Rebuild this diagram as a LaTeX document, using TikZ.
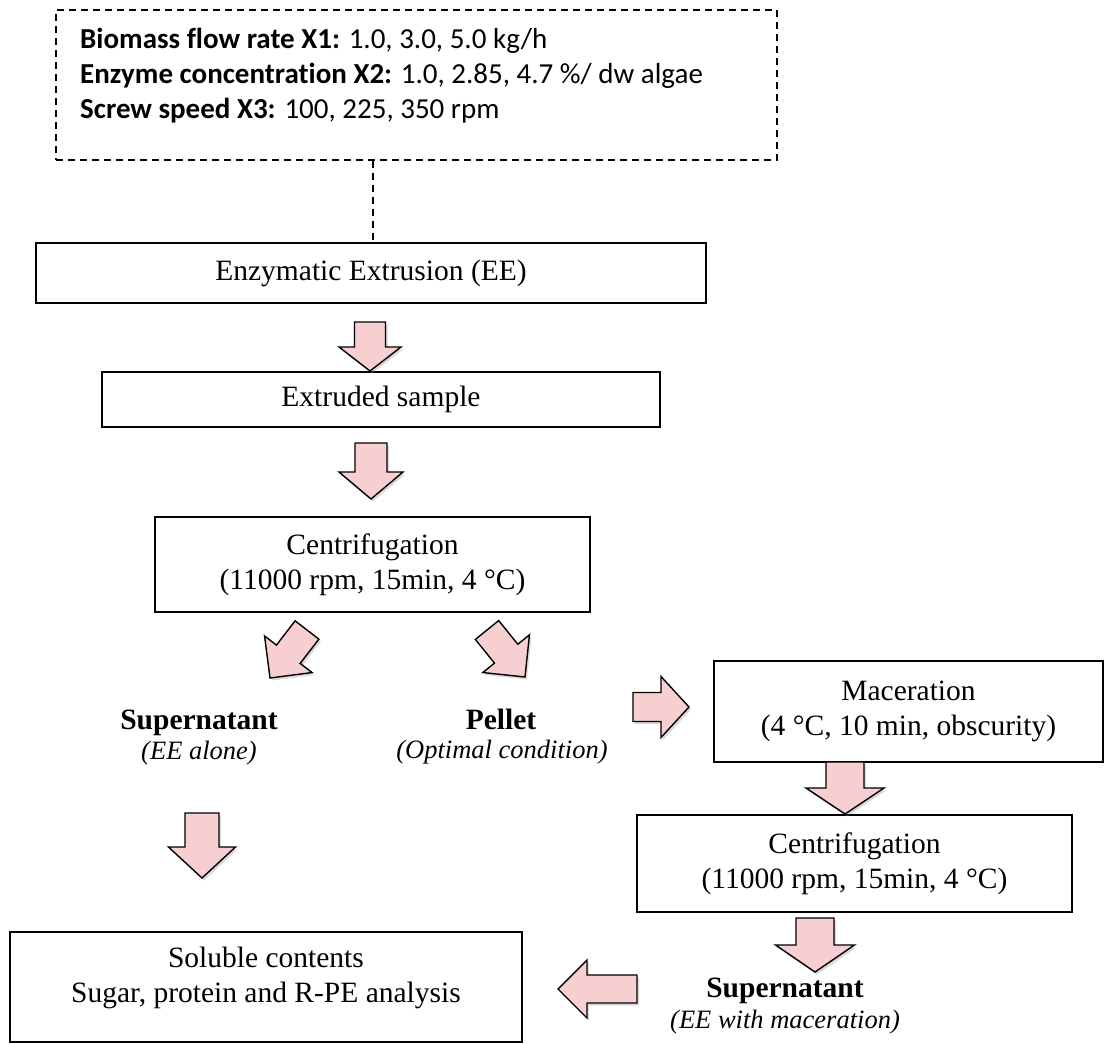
\documentclass[tikz,border=0pt]{standalone}
\usepackage{fontspec}
\setmainfont{Liberation Serif}
\newfontfamily\calib[Ligatures=CommonOff]{Carlito}
\usetikzlibrary{calc,shadows}
\definecolor{pinkfill}{RGB}{248,207,208}
\tikzset{
  box/.style={draw=black, line width=1.4pt, rectangle, inner sep=0pt, align=center,
              font=\fontsize{29.5}{35}\selectfont},
  txt/.style={inner sep=0pt, align=center, font=\fontsize{29.5}{35}\selectfont},
  dbox/.style={draw=black, line width=1.4pt, dash pattern=on 7pt off 5pt, rectangle, inner sep=0pt},
  dline/.style={draw=black, line width=1.4pt, dash pattern=on 7pt off 5pt},
  barrow/.style={fill=pinkfill, draw=black, line width=1.4pt, line join=miter,
                 drop shadow={shadow xshift=2pt, shadow yshift=-2.5pt, opacity=0.3}},
  params/.style={anchor=base west, inner sep=0pt, font=\calib\fontsize{29}{35}\selectfont},
  lblb/.style={anchor=base, inner sep=0pt, font=\bfseries\fontsize{29.5}{34}\selectfont},
  lbli/.style={anchor=base, inner sep=0pt, font=\itshape\fontsize{26.5}{30}\selectfont},
}
% tail, tip, shaft half width, head half width, head length
\newcommand{\blockarrow}[5]{%
  \coordinate (bh) at ($(#2)!#5!(#1)$);
  \path[barrow] (#2) -- ($(bh)!#4!90:(#2)$) -- ($(bh)!#3!90:(#2)$)
    -- ($(#1)!#3!90:(#2)$) -- ($(#1)!#3!-90:(#2)$)
    -- ($(bh)!#3!-90:(#2)$) -- ($(bh)!#4!-90:(#2)$) -- cycle;}
\begin{document}
\begin{tikzpicture}[x=1pt, y=-1pt]
\useasboundingbox (0,0) rectangle (1106,1044);

% parameter box
\node[dbox, minimum width=721pt, minimum height=150pt] (par) at (416.5,85) {};
\node[params] (p1) at (80,48) {\bfseries Biomass flow rate X1: \mdseries 1.0, 3.0, 5.0 kg/h};
\node[params] (p2) at (80,83) {\bfseries Enzyme concentration X2: \mdseries 1.0, 2.85, 4.7 \%/ dw algae};
\node[params] (p3) at (80,118) {\bfseries Screw speed X3: \mdseries 100, 225, 350 rpm};

% process boxes
\node[box, minimum width=670pt, minimum height=60pt] (ee) at (371,273) {Enzymatic Extrusion (EE)};
\node[box, minimum width=558pt, minimum height=55pt] (ext) at (381,399.5) {Extruded sample};
\node[box, minimum width=435pt, minimum height=95pt] (cen1) at (372.5,564.5) {Centrifugation\\(11000 rpm, 15min, 4 °C)};
\node[box, minimum width=389pt, minimum height=101pt] (mac) at (908.5,711.5) {Maceration\\(4 °C, 10 min, obscurity)};
\node[box, minimum width=435pt, minimum height=97pt] (cen2) at (854.5,863.5) {Centrifugation\\(11000 rpm, 15min, 4 °C)};
\node[box, minimum width=512pt, minimum height=110pt] (sol) at (266,987) {};
\node[txt] (solt) at (266,978) {Soluble contents\\Sugar, protein and R-PE analysis};

% labels
\node[lblb] (sup1) at (199,729) {Supernatant};
\node[lbli] (sup1i) at (199,759) {(EE alone)};
\node[lblb] (pel) at (501,729) {Pellet};
\node[lbli] (peli) at (502,758) {(Optimal condition)};
\node[lblb] (sup2) at (785,997) {Supernatant};
\node[lbli] (sup2i) at (785,1028) {(EE with maceration)};

% dashed connector
\coordinate (dl) at (373,0);
\draw[dline] (dl |- par.south) -- (dl |- ee.north);

% block arrows
\coordinate (a1t) at (370,322);  \coordinate (a1h) at (370,371);
\coordinate (a2t) at (371,443);  \coordinate (a2h) at (371,499);
\coordinate (a3t) at (307,630);  \coordinate (a3h) at (270,678);
\coordinate (a4t) at (487,630);  \coordinate (a4h) at (525,677);
\coordinate (a5t) at (633,707);  \coordinate (a5h) at (689,707);
\coordinate (a6t) at (845,762);  \coordinate (a6h) at (845,814);
\coordinate (a7t) at (815,918);  \coordinate (a7h) at (815,972);
\coordinate (a8t) at (637,989);  \coordinate (a8h) at (558,989);
\coordinate (a9t) at (202,813);  \coordinate (a9h) at (202,878);
\blockarrow{a1t}{a1h}{15.5pt}{31pt}{24pt}
\blockarrow{a2t}{a2h}{16pt}{32pt}{27pt}
\blockarrow{a3t}{a3h}{15pt}{30pt}{30pt}
\blockarrow{a4t}{a4h}{15pt}{30pt}{30pt}
\blockarrow{a5t}{a5h}{14.5pt}{30.5pt}{28pt}
\blockarrow{a6t}{a6h}{19pt}{39pt}{26pt}
\blockarrow{a7t}{a7h}{19pt}{39.5pt}{27pt}
\blockarrow{a8t}{a8h}{14pt}{29pt}{29pt}
\blockarrow{a9t}{a9h}{17pt}{33.5pt}{31pt}
\end{tikzpicture}
\end{document}
